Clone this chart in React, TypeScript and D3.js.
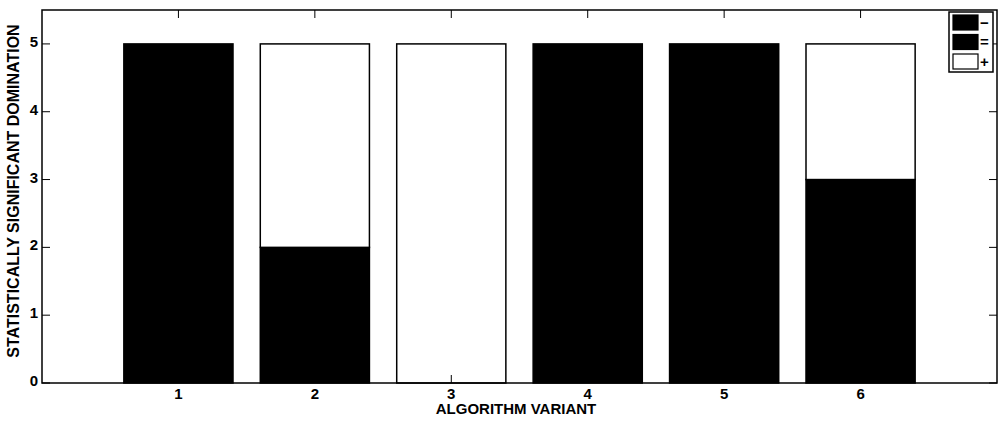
import React from "react";
import * as d3 from "d3";

const variants = [1, 2, 3, 4, 5, 6];
const minusVals = [5, 0, 0, 5, 5, 0];
const equalVals = [0, 2, 0, 0, 0, 3];
const plusVals = [0, 3, 5, 0, 0, 2];
const seriesNames = ["−", "=", "+"];
const seriesFill = ["#000", "#000", "#fff"];
const yTicks = [0, 1, 2, 3, 4, 5];

const W = 1005, H = 421;
const L = 42, R = 997, T = 10, B = 383;

export default function App() {
  const x = d3.scaleLinear().domain([0, 7]).range([L, R]);
  const y = d3.scaleLinear().domain([0, 5.5]).range([B, T]);
  const series = [minusVals, equalVals, plusVals];
  const stacked = d3.stack<number>().keys(["0", "1", "2"]).value((i, k) => series[+k][i])(variants.map((_, i) => i));
  const bw = x(0.8) - x(0);
  const font = "Liberation Sans, Arial, Helvetica, sans-serif";
  return (
    <svg width={W} height={H} style={{ position: "absolute", left: 0, top: 0, background: "#fff" }} fontFamily={font}>
      {stacked.map((layer, si) =>
        layer.map((d, i) =>
          d[1] - d[0] > 0 ? (
            <rect key={si + "-" + i} x={x(variants[i]) - bw / 2} y={y(d[1])} width={bw} height={y(d[0]) - y(d[1])}
              fill={seriesFill[si]} stroke="#000" strokeWidth={1.5} />
          ) : null
        )
      )}
      <rect x={L} y={T} width={R - L} height={B - T} fill="none" stroke="#000" strokeWidth={1.5} />
      {variants.map((v) => (
        <g key={"xt" + v}>
          <line x1={x(v)} x2={x(v)} y1={B} y2={B - 8} stroke="#000" />
          <line x1={x(v)} x2={x(v)} y1={T} y2={T + 8} stroke="#000" />
          <text x={x(v)} y={B + 16} textAnchor="middle" fontSize={15} fontWeight="bold">{v}</text>
        </g>
      ))}
      {yTicks.map((t) => (
        <g key={"yt" + t}>
          <line x1={L} x2={L + 8} y1={y(t)} y2={y(t)} stroke="#000" />
          <line x1={R} x2={R - 8} y1={y(t)} y2={y(t)} stroke="#000" />
          <text x={L - 4} y={y(t) + 3} textAnchor="end" fontSize={15} fontWeight="bold">{t}</text>
        </g>
      ))}
      <text x={516} y={414} textAnchor="middle" fontSize={15} fontWeight="bold">ALGORITHM VARIANT</text>
      <text transform={`translate(19, 191) rotate(-90)`} textAnchor="middle" fontSize={16} fontWeight="bold">STATISTICALLY SIGNIFICANT DOMINATION</text>
      <g>
        <rect x={949} y={12} width={44} height={60} fill="#fff" stroke="#000" strokeWidth={1.5} />
        {seriesNames.map((n, i) => (
          <g key={"lg" + i}>
            <rect x={953} y={15 + i * 19.5} width={25} height={15} fill={seriesFill[i]} stroke="#000" strokeWidth={1.2} />
            <text x={980} y={27.5 + i * 19.5} fontSize={15} fontWeight="bold">{n}</text>
          </g>
        ))}
      </g>
    </svg>
  );
}
